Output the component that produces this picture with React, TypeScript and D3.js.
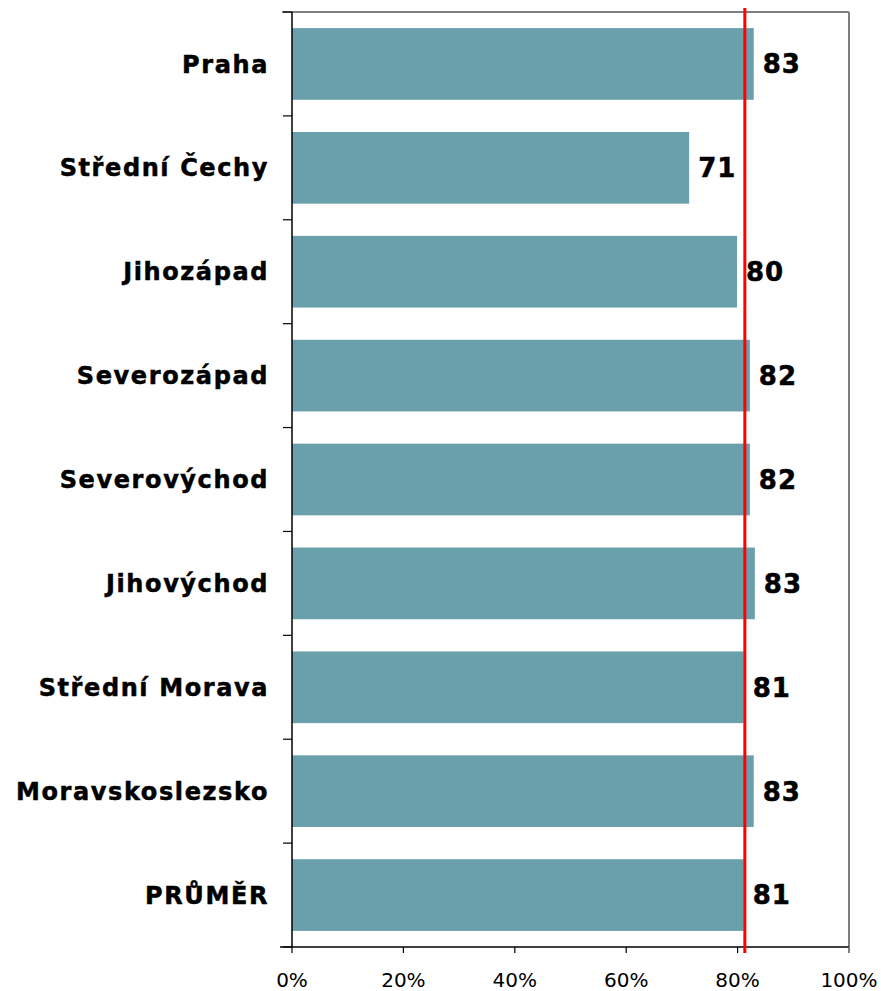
import React from "react";
import * as d3 from "d3";

const categories = ["Praha", "Střední Čechy", "Jihozápad", "Severozápad", "Severovýchod", "Jihovýchod", "Střední Morava", "Moravskoslezsko", "PRŮMĚR"];
const values = [83, 71, 80, 82, 82, 83, 81, 83, 81];
const barEnds = [82.9, 71.3, 79.9, 82.2, 82.2, 83.1, 81.1, 82.9, 81.1];
const xTicks = [0, 20, 40, 60, 80, 100];
const refValue = 81.3;

export default function App() {
  const W = 881, H = 991;
  const left = 292, right = 849, top = 12, bottom = 947;
  const x = d3.scaleLinear().domain([0, 100]).range([left, right]);
  const y = d3.scaleBand<string>().domain(categories).range([top, bottom]).paddingInner(0.31).paddingOuter(0.155);
  const bandStep = (bottom - top) / categories.length;
  const font = "DejaVu Sans, Verdana, sans-serif";
  return (
    <svg width={W} height={H} style={{ position: "absolute", left: 0, top: 0, background: "#fff" }}>
      <rect x={0} y={0} width={W} height={H} fill="#fff" />
      <line x1={282} x2={right} y1={top} y2={top} stroke="#808080" strokeWidth={2} />
      <line x1={right} x2={right} y1={top} y2={bottom + 6} stroke="#808080" strokeWidth={2} />
      {categories.map((c, i) => (
        <rect key={c} x={x(0)} y={y(c)!} width={x(barEnds[i]) - x(0)} height={y.bandwidth()} fill="#6A9FAC" />
      ))}
      <line x1={left} x2={left} y1={top} y2={bottom} stroke="#000" strokeWidth={1.5} />
      {d3.range(categories.length + 1).map((i) => (
        <line key={i} x1={283} x2={left} y1={top + i * bandStep} y2={top + i * bandStep} stroke="#000" strokeWidth={1.2} />
      ))}
      <line x1={280} x2={right} y1={bottom} y2={bottom} stroke="#000" strokeWidth={1.5} />
      {xTicks.map((t) => (
        <g key={t}>
          <line x1={x(t)} x2={x(t)} y1={bottom} y2={bottom + 6} stroke={t === 100 ? "#808080" : "#000"} strokeWidth={1.2} />
          <text x={x(t)} y={987} textAnchor="middle" fontFamily={font} fontSize={20} fill="#000">{t}%</text>
        </g>
      ))}
      {categories.map((c) => (
        <text key={c} x={269} y={y(c)! + y.bandwidth() / 2} dy="0.36em" textAnchor="end" fontFamily={font} fontWeight="bold" fontSize={24} letterSpacing={1.6} stroke="#000" strokeWidth={0.5} fill="#000">{c}</text>
      ))}
      <line x1={x(refValue)} x2={x(refValue)} y1={8} y2={953} stroke="#FF0000" strokeWidth={3} />
      {categories.map((c, i) => (
        <text key={c} x={x(barEnds[i]) + 9} y={y(c)! + y.bandwidth() / 2} dy="0.36em" textAnchor="start" fontFamily={font} fontWeight="bold" fontSize={26} letterSpacing={1} stroke="#000" strokeWidth={0.5} fill="#000">{values[i]}</text>
      ))}
    </svg>
  );
}
